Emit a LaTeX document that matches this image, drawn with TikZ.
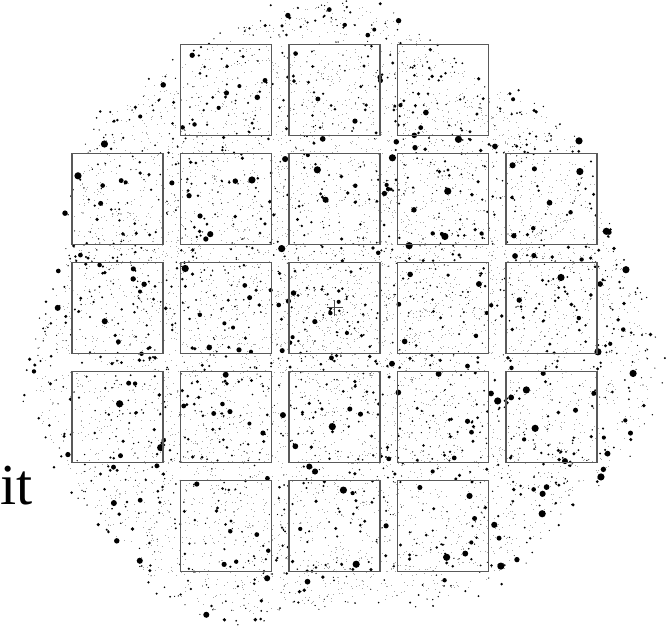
\documentclass[tikz,border=0pt]{standalone}
\usepackage{fontspec}
\setmainfont{Liberation Serif}
\begin{document}
\begin{tikzpicture}[x=1pt, y=-1pt, ccd/.style={draw=black!65, line width=1.2pt, minimum size=91pt, inner sep=0pt}, star/.style={fill=black}, dust/.style={fill=black!35}]
\useasboundingbox (0,0) rectangle (667,644);
\pgfmathsetseed{4711}
\foreach \i in {1,...,6000}{
  \pgfmathsetmacro{\a}{360*rnd}
  \pgfmathsetmacro{\r}{rnd^0.6*(300+14*sin(3*\a+40)+10*sin(7*\a))}
  \fill[dust] ({335+\r*cos(\a)},{322+\r*sin(\a)}) rectangle ++(0.8,0.8);
}
\foreach \i in {1,...,1900}{
  \pgfmathsetmacro{\a}{360*rnd}
  \pgfmathsetmacro{\r}{sqrt(rnd)*(310+16*sin(3*\a+40)+12*sin(7*\a+10))}
  \pgfmathsetmacro{\s}{0.6+0.9*rnd^2}
  \fill[star] ({335+\r*cos(\a)},{322+\r*sin(\a)}) circle (\s pt);
}
\foreach \i in {1,...,420}{
  \pgfmathsetmacro{\a}{360*rnd}
  \pgfmathsetmacro{\r}{sqrt(rnd)*(310+16*sin(3*\a+40)+12*sin(7*\a+10))}
  \pgfmathsetmacro{\s}{1.6+1.5*rnd^2}
  \fill[star] ({335+\r*cos(\a)},{322+\r*sin(\a)}) circle (\s pt);
}
\foreach \i in {1,...,30}{
  \pgfmathsetmacro{\a}{360*rnd}
  \pgfmathsetmacro{\r}{sqrt(rnd)*(310+16*sin(3*\a+40)+12*sin(7*\a+10))}
  \fill[star] ({335+\r*cos(\a)},{322+\r*sin(\a)}) circle (3.6pt);
}
\foreach \row/\cols in {0/{1,2,3}, 1/{0,1,2,3,4}, 2/{0,1,2,3,4}, 3/{0,1,2,3,4}, 4/{1,2,3}}{
  \foreach \col in \cols{
    \node[ccd] (ccd-\row-\col) at ({117.5+108.5*\col},{90+108.9*\row}) {};
  }
}
\draw[black!70, line width=0.6pt] ([xshift=-8pt]ccd-2-2.center) -- ([xshift=8pt]ccd-2-2.center)
  ([yshift=-8pt]ccd-2-2.center) -- ([yshift=8pt]ccd-2-2.center);
\node[anchor=base west, inner sep=0pt, font=\fontsize{58}{58}\selectfont] (label) at (0,504) {it};
\end{tikzpicture}
\end{document}
